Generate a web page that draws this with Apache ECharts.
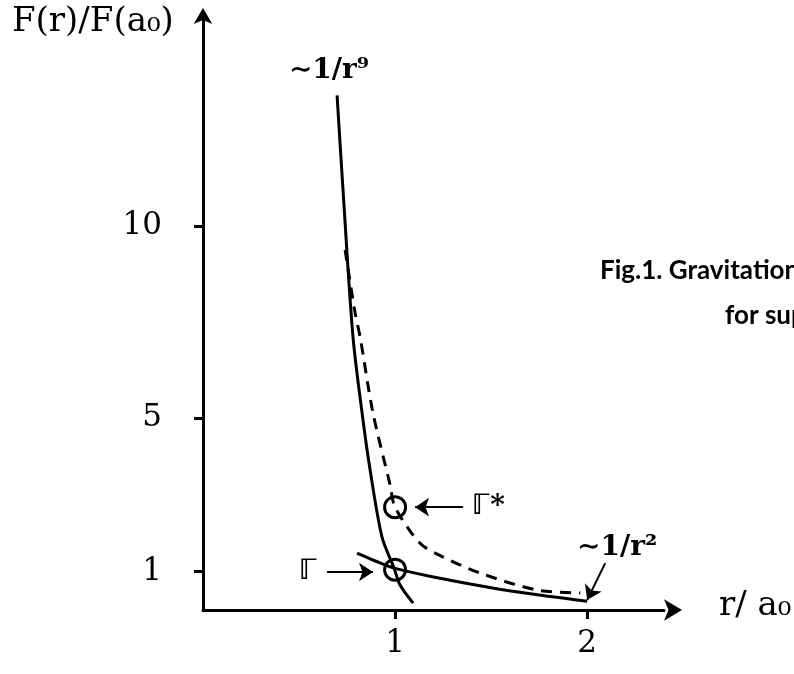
<!DOCTYPE html>
<html>
<head>
<meta charset="utf-8">
<script src="https://cdn.jsdelivr.net/npm/echarts@6/dist/echarts.min.js"></script>
<style>
  html, body { margin: 0; padding: 0; background: #fff; }
  #chart { width: 794px; height: 674px; }
</style>
</head>
<body>
<div id="chart"></div>
<script>
// curves (r/a0, F/F(a0))
const steepR = [0.698, 0.729, 0.781, 0.833, 0.870, 0.932, 0.995, 1.026, 1.094]
const steepF = [13.41, 10.94, 7.11, 4.95, 3.65, 1.90, 1.09, 0.65, 0.18]
const dashR = [0.740, 0.792, 0.818, 0.885, 0.974, 1.0, 1.130, 1.25, 1.443, 1.74, 1.964]
const dashF = [9.38, 7.73, 7.11, 5.13, 3.26, 2.68, 1.74, 1.38, 0.96, 0.52, 0.44]
const flatR = [0.802, 0.9, 0.995, 1.2, 1.5, 1.75, 2.0]
const flatF = [1.48, 1.27, 1.09, 0.86, 0.58, 0.39, 0.23]

const circles = [[1, 2.68], [1, 1.05]]
const xTicks = [1, 2]
const yTicks = [1, 5, 10]

// annotation arrows: [from, to]
const arrows = [
  [[1.354, 2.68], [1.104, 2.68]],
  [[0.646, 0.99], [0.885, 0.99]],
  [[2.094, 1.22], [2.0, 0.26]]
]
const notes = [
  { text: '∼1/r⁹', at: [0.656, 14.06], align: 'center', size: 28 },
  { text: '∼1/r²', at: [2.156, 1.61], align: 'center', size: 28 },
  { text: 'ℾ*', at: [1.40, 2.68], align: 'left', size: 28 },
  { text: 'ℾ', at: [0.547, 0.99], align: 'center', size: 28 }
]

const pairs = (xs, ys) => xs.map((x, i) => [x, ys[i]])
const serif = 'DejaVu Serif'

const chart = echarts.init(document.getElementById('chart'))

const lineStyle = { color: '#000', width: 3 }

chart.setOption({
  animation: false,
  grid: { left: 203, right: 130, top: 19, bottom: 64 },
  xAxis: {
    type: 'value',
    min: 0,
    max: 2.4,
    splitLine: { show: false },
    axisLine: {
      lineStyle: { color: '#000', width: 3 },
      symbol: ['none', 'arrow'],
      symbolSize: [16, 18],
      symbolOffset: [0, 18]
    },
    axisTick: { customValues: xTicks, length: 9, lineStyle: { color: '#000', width: 3 } },
    axisLabel: {
      customValues: xTicks,
      margin: 18,
      color: '#000',
      fontFamily: serif,
      fontSize: 31
    }
  },
  yAxis: {
    type: 'value',
    min: 0,
    max: 15.4,
    splitLine: { show: false },
    axisLine: {
      lineStyle: { color: '#000', width: 3 },
      symbol: ['none', 'arrow'],
      symbolSize: [14, 16],
      symbolOffset: [0, 11]
    },
    axisTick: { customValues: yTicks, length: 9, lineStyle: { color: '#000', width: 3 } },
    axisLabel: {
      customValues: yTicks,
      margin: 41,
      color: '#000',
      fontFamily: serif,
      fontSize: 31
    }
  },
  graphic: [
    {
      type: 'text',
      left: 12,
      top: 5,
      style: { text: 'F(r)/F(a₀)', font: '34px "DejaVu Serif"', fill: '#000' }
    },
    {
      type: 'text',
      left: 719,
      top: 589,
      style: { text: 'r/ a₀', font: '34px "DejaVu Serif"', fill: '#000' }
    },
    {
      type: 'text',
      left: 600,
      top: 258,
      style: { text: 'Fig.1. Gravitational force', font: 'bold 26px Lato', fill: '#000' }
    },
    {
      type: 'text',
      left: 725,
      top: 303,
      style: { text: 'for superconductors', font: 'bold 26px Lato', fill: '#000' }
    }
  ],
  series: [
    {
      type: 'line',
      data: pairs(steepR, steepF),
      smooth: 0.3,
      symbol: 'none',
      lineStyle
    },
    {
      type: 'line',
      data: pairs(dashR, dashF),
      smooth: 0.3,
      symbol: 'none',
      lineStyle: { color: '#000', width: 3, type: [11, 8] }
    },
    {
      type: 'line',
      data: pairs(flatR, flatF),
      smooth: 0.3,
      symbol: 'none',
      lineStyle
    },
    {
      type: 'scatter',
      data: circles,
      symbol: 'circle',
      symbolSize: 21,
      itemStyle: { color: 'rgba(0,0,0,0)', borderColor: '#000', borderWidth: 3, opacity: 1 },
      z: 5
    },
    {
      type: 'lines',
      coordinateSystem: 'cartesian2d',
      data: arrows.map(a => ({ coords: a })),
      symbol: ['none', 'arrow'],
      symbolSize: 14,
      lineStyle: { color: '#000', width: 2, opacity: 1 }
    },
    {
      type: 'scatter',
      symbolSize: 0,
      itemStyle: { opacity: 1 },
      data: notes.map(n => ({
        value: n.at,
        label: {
          show: true,
          position: 'inside',
          formatter: n.text,
          align: n.align,
          color: '#000',
          opacity: 1,
          fontFamily: serif + ', DejaVu Sans',
          fontWeight: 'bold',
          fontSize: n.size
        }
      }))
    }
  ]
})
</script>
</body>
</html>
